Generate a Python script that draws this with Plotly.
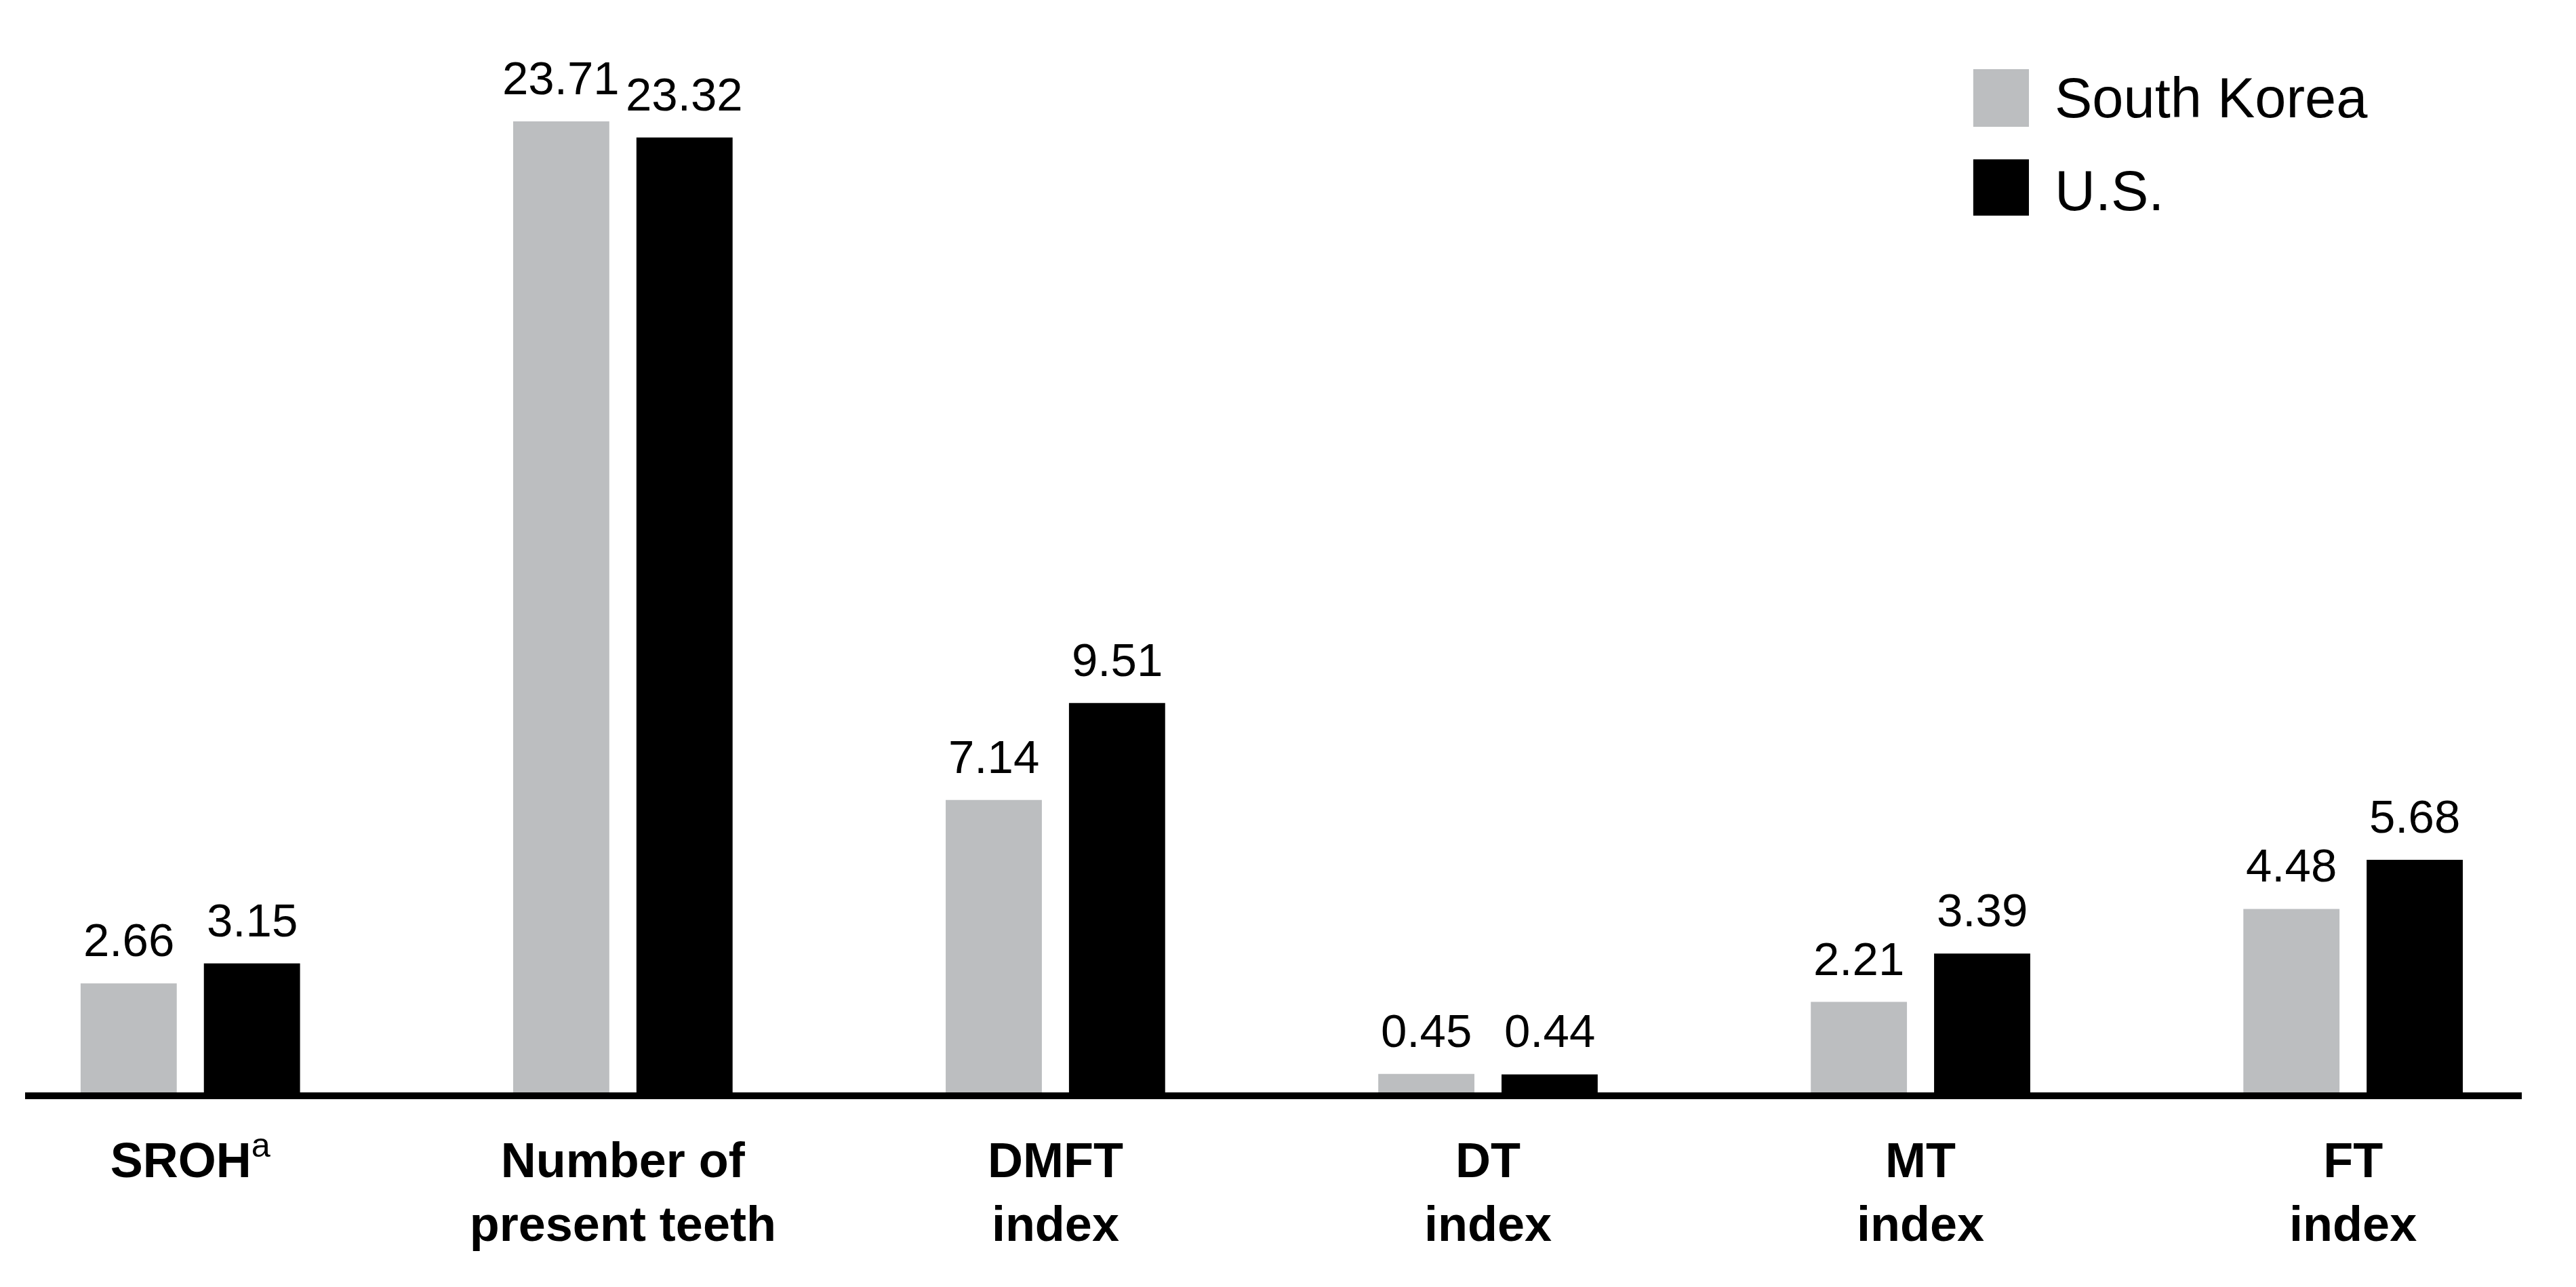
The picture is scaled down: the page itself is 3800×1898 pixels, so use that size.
import plotly.graph_objects as go

categories = ["SROH<sup><span style='font-weight:normal'>a</span></sup>", "Number of<br>present teeth",
              "DMFT<br>index", "DT<br>index", "MT<br>index", "FT<br>index"]
south_korea = [2.66, 23.71, 7.14, 0.45, 2.21, 4.48]
us = [3.15, 23.32, 9.51, 0.44, 3.39, 5.68]
series_names = ["South Korea", "U.S."]

GRAY = "#BCBEC0"
BLACK = "#000000"
FONT = "Liberation Sans, Arial, sans-serif"

fig = go.Figure()
fig.add_trace(go.Bar(x=categories, y=south_korea, name=series_names[0],
                     marker=dict(color=GRAY, line=dict(width=0)), showlegend=False))
fig.add_trace(go.Bar(x=categories, y=us, name=series_names[1],
                     marker=dict(color=BLACK, line=dict(width=0)), showlegend=False))

annotations = []
for vals, shift in ((south_korea, -91), (us, 91)):
    for cat, v in zip(categories, vals):
        annotations.append(dict(x=cat, y=v, xref="x", yref="y", text=f"{v:.2f}",
                                showarrow=False, xanchor="center", yanchor="bottom",
                                xshift=shift, yshift=23,
                                font=dict(family=FONT, size=69, color="black")))

# manual legend
legend_items = [(series_names[0], GRAY, 0.9799, 0.9247, 0.952),
                (series_names[1], BLACK, 0.8935, 0.8396, 0.8636)]
shapes = []
for name, col, y1, y0, yc in legend_items:
    shapes.append(dict(type="rect", xref="paper", yref="paper", x0=0.7803, x1=0.8026,
                       y0=y0, y1=y1, fillcolor=col, line=dict(width=0)))
    annotations.append(dict(x=0.8124, y=yc, xref="paper", yref="paper", text=name,
                            showarrow=False, xanchor="left", yanchor="middle",
                            font=dict(family=FONT, size=83, color="black")))

fig.update_layout(
    width=3800, height=1898,
    margin=dict(l=29, r=88, t=63, b=295),
    paper_bgcolor="white", plot_bgcolor="white",
    barmode="group", bargap=0.43, bargroupgap=0.22,
    annotations=annotations, shapes=shapes,
    showlegend=False,
    xaxis=dict(range=[-0.382, 5.39], showline=True, linewidth=10, linecolor="black",
               showgrid=False, zeroline=False, ticks="outside", ticklen=29,
               tickcolor="rgba(0,0,0,0)",
               tickfont=dict(family=FONT, size=72, color="black", weight="bold")),
    yaxis=dict(range=[0, 25.5], visible=False, showgrid=False, zeroline=False),
)

fig.write_html("out.html")
